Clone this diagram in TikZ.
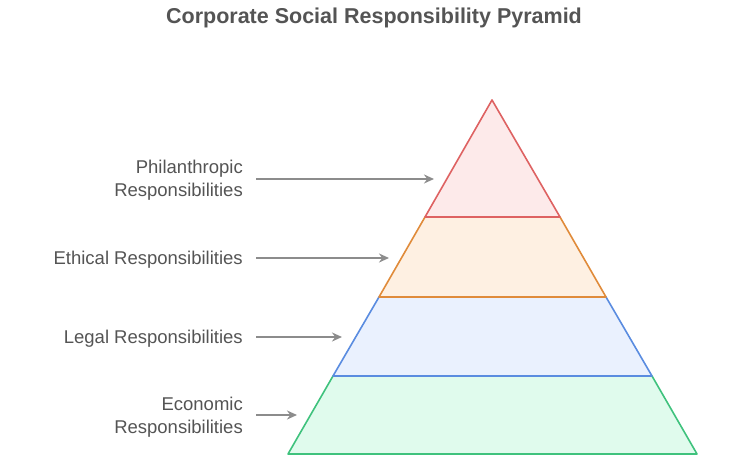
\documentclass[tikz,border=0pt]{standalone}
\usepackage{fontspec}
\setmainfont{Liberation Sans}
\usetikzlibrary{arrows.meta}
\definecolor{txtgray}{HTML}{545454}
\definecolor{arrgray}{HTML}{8C8C8C}
\definecolor{redline}{HTML}{DE6262}
\definecolor{redfill}{HTML}{FDEAEA}
\definecolor{orgline}{HTML}{E08B3A}
\definecolor{orgfill}{HTML}{FEF0E2}
\definecolor{blueline}{HTML}{5A8CE0}
\definecolor{bluefill}{HTML}{EAF1FE}
\definecolor{grnline}{HTML}{3FC27D}
\definecolor{grnfill}{HTML}{E0FBED}
\begin{document}
\begin{tikzpicture}[x=1pt,y=-1pt]
		% styles
		\tikzstyle{etage}=[line width=1.6pt,line join=round]
		\tikzstyle{libelle}=[anchor=east,align=right,text=txtgray,font=\fontsize{18.5}{23}\selectfont,inner sep=0pt]
		\tikzstyle{renvoi}=[-{Stealth[length=10pt,width=9pt]},line width=1.6pt,draw=arrgray]
		\useasboundingbox (0,0) rectangle (743,462);
		% title
		\node[text=txtgray,font=\bfseries\fontsize{21.5}{24}\selectfont] (titre) at (374,18) {Corporate Social Responsibility Pyramid};
		% the pyramid
		\coordinate (sommet) at (492,100);
		\coordinate (a1) at (425,217); \coordinate (b1) at (560,217);
		\coordinate (a2) at (379,297); \coordinate (b2) at (606,297);
		\coordinate (a3) at (333,376); \coordinate (b3) at (652,376);
		\coordinate (a4) at (288,454); \coordinate (b4) at (697,454);
		\draw[etage,draw=grnline,fill=grnfill] (a3) -- (b3) -- (b4) -- (a4) -- cycle;
		\draw[etage,draw=blueline,fill=bluefill] (a2) -- (b2) -- (b3) -- (a3) -- cycle;
		\draw[etage,draw=orgline,fill=orgfill] (a1) -- (b1) -- (b2) -- (a2) -- cycle;
		\draw[etage,draw=redline,fill=redfill] (sommet) -- (b1) -- (a1) -- cycle;
		% the labels
		\node[libelle] (phil) at (243,180) {Philanthropic\\Responsibilities};
		\node[libelle] (ethi) at (243,259.5) {Ethical Responsibilities};
		\node[libelle] (lega) at (243,338.5) {Legal Responsibilities};
		\node[libelle] (econ) at (243,417) {Economic\\Responsibilities};
		% the arrows
		\coordinate (p1) at (434,179);
		\coordinate (p2) at (389,258);
		\coordinate (p3) at (342,337);
		\coordinate (p4) at (297,415);
		\draw[renvoi] (phil.east |- p1) ++(13,0) -- (p1);
		\draw[renvoi] (ethi.east |- p2) ++(13,0) -- (p2);
		\draw[renvoi] (lega.east |- p3) ++(13,0) -- (p3);
		\draw[renvoi] (econ.east |- p4) ++(13,0) -- (p4);
	\end{tikzpicture}
\end{document}
